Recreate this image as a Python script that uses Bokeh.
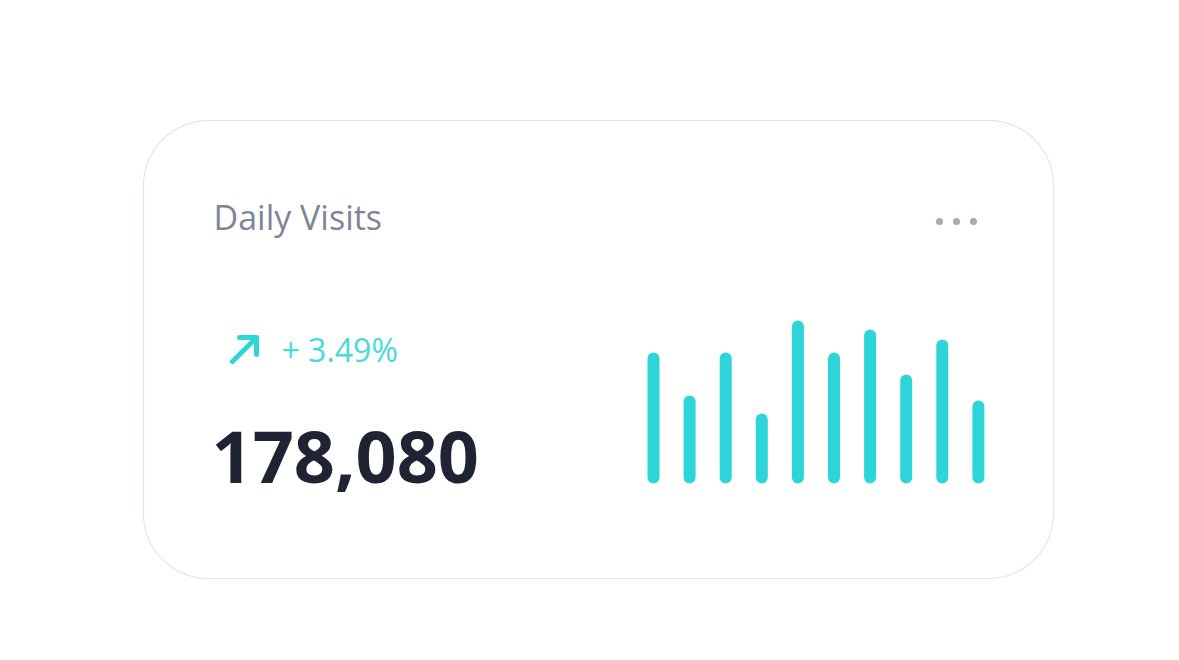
import numpy as np
from bokeh.plotting import figure
from bokeh.models import Range1d, ColumnDataSource
from bokeh.core.properties import value
from bokeh.embed import file_html
from bokeh.resources import INLINE

# ---- data ----
title_text = "Daily Visits"
change_text = "+ 3.49%"
total_text = "178,080"
bar_index = [0, 1, 2, 3, 4, 5, 6, 7, 8, 9]
bar_values = [119, 76, 119, 58, 151, 119, 142, 97, 132, 71]

W, H = 1163, 644
OFF = 0
p = figure(width=W, height=H, output_backend="svg", toolbar_location=None,
           x_range=Range1d(OFF, OFF + W), y_range=Range1d(OFF + H, OFF),
           min_border=0, outline_line_color=None, background_fill_color="white",
           border_fill_color="white")
p.axis.visible = False
p.grid.visible = False

# card with rounded corners
x0, x1, y0, y1, r = 143, 1053, 120, 578, 65
def arc(cx, cy, a0, a1):
    t = np.linspace(a0, a1, 30)
    return cx + r * np.cos(t), cy + r * np.sin(t)
xs, ys = [], []
for cx, cy, a0, a1 in [(x1 - r, y0 + r, -np.pi / 2, 0), (x1 - r, y1 - r, 0, np.pi / 2),
                       (x0 + r, y1 - r, np.pi / 2, np.pi), (x0 + r, y0 + r, np.pi, 1.5 * np.pi)]:
    ax, ay = arc(cx, cy, a0, a1)
    xs.extend(ax); ys.extend(ay)
p.patch(xs, ys, fill_color="white", line_color="#e2e5ea", line_width=1.2)

# texts
p.text(x=[213], y=[216], text=[title_text], text_font=value("Open Sans"),
       text_font_size="34px", text_color="#7f8496", text_baseline="alphabetic")
p.text(x=[281], y=[349], text=[change_text], text_font=value("Open Sans"),
       text_font_size="32px", text_color="#4ad8da", text_baseline="alphabetic")
p.text(x=[211], y=[456], text=[total_text], text_font=value("Open Sans"),
       text_font_style="bold", text_font_size="72px", text_color="#1f2333",
       text_baseline="alphabetic")

# arrow icon
p.multi_line(xs=[[232, 255], [239, 256, 256]], ys=[[361, 338], [337, 337, 354]],
             line_color="#2fd6d8", line_width=5, line_cap="round", line_join="round")

# menu dots
p.scatter(x=[939, 956, 973], y=[221, 221, 221], size=7, marker="circle",
          fill_color="#a5a9b5", line_color=None)

# bars
p.extra_x_ranges = {"bx": Range1d((OFF - 653) / 36.1, (OFF + W - 653) / 36.1)}
p.extra_y_ranges = {"by": Range1d(477 - (OFF + H), 477 - OFF)}
src = ColumnDataSource(dict(x=bar_index, y=bar_values, base=[0] * len(bar_values)))
p.segment(x0="x", y0="base", x1="x", y1="y", source=src, x_range_name="bx",
          y_range_name="by", line_color="#2dd5d9", line_width=12, line_cap="round")

open("out.html", "w").write(file_html(p, INLINE))
